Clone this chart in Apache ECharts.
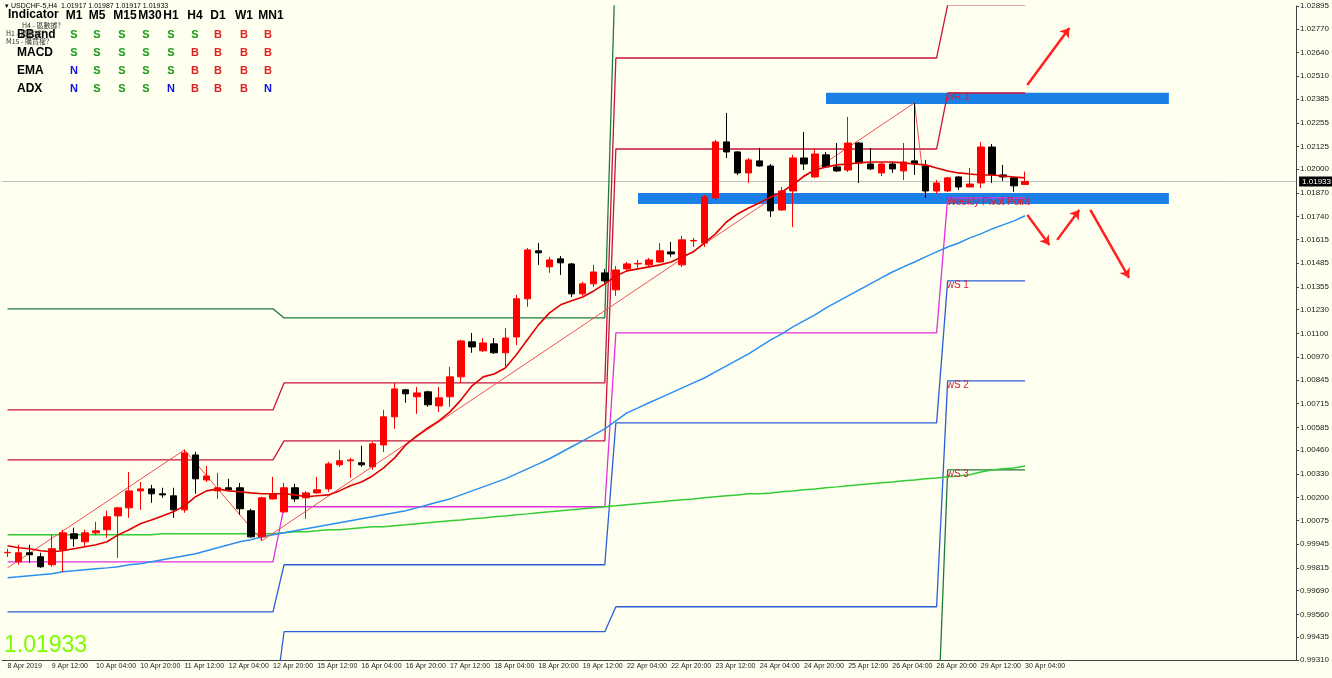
<!DOCTYPE html>
<html><head><meta charset="utf-8">
<script src="https://cdn.jsdelivr.net/npm/echarts@6/dist/echarts.min.js"></script>
<style>html,body{margin:0;padding:0;background:#fffff0}#c{width:1332px;height:678px}</style>
</head><body><div id="c"></div>
<script>
// ---- data ----
const tickLabels = ['8 Apr 2019','9 Apr 12:00','10 Apr 04:00','10 Apr 20:00','11 Apr 12:00','12 Apr 04:00','12 Apr 20:00','15 Apr 12:00','16 Apr 04:00','16 Apr 20:00','17 Apr 12:00','18 Apr 04:00','18 Apr 20:00','19 Apr 12:00','22 Apr 04:00','22 Apr 20:00','23 Apr 12:00','24 Apr 04:00','24 Apr 20:00','25 Apr 12:00','26 Apr 04:00','26 Apr 20:00','29 Apr 12:00','30 Apr 04:00'];
const yTicks = [1.02895,1.02770,1.02640,1.02510,1.02385,1.02255,1.02125,1.02000,1.01870,1.01740,1.01615,1.01485,1.01355,1.01230,1.01100,1.00970,1.00845,1.00715,1.00585,1.00460,1.00330,1.00200,1.00075,0.99945,0.99815,0.99690,0.99560,0.99435,0.99310];
// [open, close, low, high]
const candles = [
[0.99898,0.99900,0.99875,0.99920],[0.99848,0.99898,0.99832,0.99942],[0.99898,0.99887,0.99843,0.99942],[0.99876,0.99821,0.99815,0.99898],
[0.99832,0.99920,0.99821,0.99996],[0.99914,1.00007,0.99793,1.00024],[1.00002,0.99975,0.99931,1.00035],[0.99958,1.00007,0.99931,1.00024],
[1.00007,1.00018,0.99996,1.00068],[1.00024,1.00095,0.99980,1.00128],[1.00100,1.00144,0.99870,1.00150],[1.00144,1.00237,1.00089,1.00341],
[1.00237,1.00248,1.00133,1.00286],[1.00248,1.00221,1.00172,1.00270],[1.00221,1.00215,1.00199,1.00254],[1.00210,1.00133,1.00089,1.00254],
[1.00133,1.00445,1.00117,1.00462],[1.00434,1.00303,1.00221,1.00451],[1.00297,1.00319,1.00286,1.00374],[1.00237,1.00254,1.00193,1.00336],
[1.00254,1.00243,1.00243,1.00303],[1.00254,1.00139,1.00106,1.00281],[1.00128,0.99985,0.99980,1.00139],[0.99985,1.00199,0.99964,1.00205],
[1.00193,1.00221,1.00190,1.00314],[1.00122,1.00254,1.00117,1.00281],[1.00254,1.00193,1.00177,1.00276],[1.00199,1.00226,1.00084,1.00237],
[1.00226,1.00243,1.00221,1.00314],[1.00248,1.00385,1.00232,1.00396],[1.00380,1.00402,1.00369,1.00462],[1.00402,1.00407,1.00308,1.00418],
[1.00391,1.00380,1.00369,1.00484],[1.00369,1.00495,1.00352,1.00506],[1.00489,1.00643,1.00451,1.00681],[1.00643,1.00796,1.00577,1.00829],
[1.00791,1.00769,1.00720,1.00796],[1.00753,1.00774,1.00659,1.00807],[1.00780,1.00709,1.00698,1.00786],[1.00703,1.00747,1.00670,1.00807],
[1.00753,1.00862,1.00698,1.00917],[1.00862,1.01059,1.00829,1.01065],[1.01054,1.01026,1.00994,1.01103],[1.01005,1.01048,1.00999,1.01075],
[1.01043,1.00994,1.00988,1.01075],[1.00994,1.01075,1.00917,1.01130],[1.01081,1.01290,1.01037,1.01311],[1.01290,1.01558,1.01246,1.01569],
[1.01553,1.01542,1.01476,1.01596],[1.01465,1.01503,1.01432,1.01520],[1.01509,1.01487,1.01421,1.01525],[1.01481,1.01317,1.01300,1.01487],
[1.01317,1.01372,1.01306,1.01383],[1.01372,1.01437,1.01355,1.01476],[1.01432,1.01388,1.01377,1.01454],[1.01339,1.01448,1.01306,1.01470],
[1.01454,1.01481,1.01437,1.01492],[1.01481,1.01484,1.01459,1.01503],[1.01476,1.01503,1.01465,1.01514],[1.01492,1.01553,1.01487,1.01596],
[1.01547,1.01536,1.01520,1.01602],[1.01476,1.01613,1.01465,1.01635],[1.01607,1.01610,1.01574,1.01624],[1.01596,1.01848,1.01574,1.01859],
[1.01843,1.02150,1.01832,1.02161],[1.02150,1.02095,1.02062,1.02309],[1.02095,1.01980,1.01969,1.02100],[1.01980,1.02051,1.01925,1.02062],
[1.02046,1.02018,1.02013,1.02117],[1.02018,1.01772,1.01739,1.02029],[1.01777,1.01881,1.01772,1.01903],[1.01881,1.02062,1.01684,1.02079],
[1.02062,1.02029,1.01996,1.02205],[1.01958,1.02084,1.01952,1.02111],[1.02079,1.02013,1.02007,1.02095],[1.02013,1.01991,1.01985,1.02144],
[1.01996,1.02144,1.01985,1.02287],[1.02144,1.02035,1.01925,1.02150],[1.02029,1.02002,1.01996,1.02117],[1.01980,1.02029,1.01963,1.02035],
[1.02029,1.02002,1.01980,1.02040],[1.01991,1.02040,1.01941,1.02144],[1.02046,1.02029,1.01969,1.02364],[1.02018,1.01881,1.01843,1.02051],
[1.01881,1.01925,1.01865,1.01941],[1.01881,1.01953,1.01876,1.01958],[1.01958,1.01903,1.01887,1.01963],[1.01903,1.01919,1.01903,1.02007],
[1.01925,1.02122,1.01898,1.02150],[1.02122,1.01969,1.01925,1.02139],[1.01969,1.01958,1.01936,1.02024],[1.01953,1.01909,1.01876,1.01958],
[1.01917,1.01933,1.01917,1.01987]];
const maRed = [0.99936,0.99925,0.99920,0.99909,0.99903,0.99909,0.99920,0.99931,0.99942,0.99958,0.99996,1.00024,1.00057,1.00078,1.00100,1.00122,1.00155,1.00205,1.00237,1.00248,1.00237,1.00232,1.00226,1.00221,1.00221,1.00221,1.00215,1.00205,1.00210,1.00215,1.00237,1.00265,1.00286,1.00319,1.00363,1.00418,1.00489,1.00539,1.00582,1.00621,1.00670,1.00736,1.00813,1.00862,1.00878,1.00911,1.00983,1.01065,1.01147,1.01213,1.01257,1.01279,1.01300,1.01333,1.01372,1.01415,1.01443,1.01454,1.01465,1.01476,1.01492,1.01520,1.01547,1.01596,1.01646,1.01711,1.01755,1.01788,1.01816,1.01848,1.01876,1.01914,1.01963,1.01996,1.02013,1.02024,1.02029,1.02035,1.02040,1.02040,1.02040,1.02035,1.02029,1.02024,1.02007,1.01991,1.01980,1.01974,1.01969,1.01969,1.01963,1.01958,1.01953];
const emaBlue = [0.99761,0.99766,0.99772,0.99777,0.99783,0.99794,0.99799,0.99805,0.99810,0.99815,0.99821,0.99832,0.99837,0.99848,0.99859,0.99870,0.99881,0.99892,0.99909,0.99925,0.99942,0.99958,0.99969,0.99985,0.99996,1.00007,1.00018,1.00029,1.00040,1.00051,1.00062,1.00073,1.00084,1.00095,1.00106,1.00117,1.00128,1.00144,1.00161,1.00177,1.00193,1.00215,1.00237,1.00259,1.00281,1.00303,1.00330,1.00358,1.00385,1.00413,1.00446,1.00479,1.00511,1.00544,1.00577,1.00621,1.00665,1.00692,1.00720,1.00747,1.00774,1.00802,1.00829,1.00856,1.00889,1.00922,1.00955,1.00988,1.01026,1.01065,1.01098,1.01136,1.01169,1.01202,1.01240,1.01273,1.01306,1.01339,1.01372,1.01405,1.01437,1.01465,1.01492,1.01520,1.01547,1.01574,1.01596,1.01624,1.01646,1.01673,1.01695,1.01717,1.01745];
const emaGreen = [0.99996,0.99996,0.99996,0.99996,0.99996,0.99996,0.99996,0.99996,0.99996,0.99996,0.99996,0.99996,0.99996,0.99996,1.00002,1.00002,1.00002,1.00002,1.00002,1.00002,1.00002,1.00002,1.00002,1.00002,1.00002,1.00007,1.00013,1.00013,1.00018,1.00024,1.00024,1.00029,1.00035,1.00040,1.00040,1.00046,1.00051,1.00057,1.00062,1.00068,1.00073,1.00078,1.00084,1.00089,1.00095,1.00100,1.00106,1.00111,1.00117,1.00122,1.00128,1.00133,1.00139,1.00144,1.00150,1.00155,1.00161,1.00166,1.00172,1.00177,1.00183,1.00188,1.00193,1.00199,1.00205,1.00210,1.00215,1.00221,1.00221,1.00226,1.00232,1.00237,1.00243,1.00248,1.00254,1.00259,1.00265,1.00270,1.00276,1.00281,1.00286,1.00292,1.00297,1.00303,1.00308,1.00314,1.00319,1.00325,1.00341,1.00352,1.00358,1.00363,1.00374];
const zigzag = [[0,0.99815],[16,1.00462],[23,0.99964],[82,1.02364],[83,1.01843]];
const weekStart = [0,25,55,85];
const levelR3 = [1.01235,1.01185,1.0320,1.0320];
const levelR2 = [1.00681,1.00829,1.02610,1.02901];
const levelR1 = [1.00407,1.00511,1.02111,1.02418];
const levelPP = [0.99848,1.00150,1.01103,1.01843];
const levelS1 = [0.99574,0.99832,1.00610,1.01388];
const levelS2 = [0.9900,0.99465,0.99602,1.00840];
const levelS3 = [0.9880,0.9880,0.9880,1.00352];
const bandR1 = [74,105,1.02358,1.02419];
const bandPP = [57,105,1.01810,1.01870];
const arrows = [[[92.2,1.02462],[96.0,1.02775]],[[92.2,1.01750],[94.2,1.01585]],[[94.9,1.01613],[96.9,1.01777]],[[97.9,1.01777],[101.4,1.01405]]];
const lastPrice = 1.01933;
const tableCols = ['M1','M5','M15','M30','H1','H4','D1','W1','MN1'];
const tableRows = ['BBand','MACD','EMA','ADX'];
const tableVals = [['S','S','S','S','S','S','B','B','B'],['S','S','S','S','S','B','B','B','B'],['N','S','S','S','S','B','B','B','B'],['N','S','S','S','N','B','B','B','N']];

// ---- build ----
const N = 117;
const cats = Array.from({length:N},(_, i)=>String(i));
const nBars = candles.length;
function weekly(L){const out=[];for(let i=0;i<nBars;i++){let w=0;for(let k=0;k<weekStart.length;k++)if(i>=weekStart[k])w=k;out.push(L[w]);}return out;}
const F='Liberation Sans';
function lvl(name,L,color,label){
  const s={name,type:'line',data:weekly(L),symbol:'none',lineStyle:{color,width:1.3},z:3,silent:true};
  if(label){s.markPoint={symbol:'circle',symbolSize:0,data:[{coord:[85,L[3]]}],label:{show:true,formatter:label,position:'right',offset:[-6,4],color:'#d02040',fontSize:10,fontFamily:F}};}
  return s;
}
const colX=[74,97,122,146,171,195,218,244,268];
const colHX=[74,97,125,150,171,195,218,244,271];
const graphics=[];
graphics.push({type:'text',left:5,top:3,style:{text:'▾ USDCHF-5,H4  1.01917 1.01987 1.01917 1.01933',fontSize:7,fontFamily:F,fill:'#000'}});
graphics.push({type:'text',left:8,top:9,style:{text:'Indicator',fontSize:12,fontWeight:'bold',fontFamily:F,fill:'#000'}});
tableCols.forEach((c,j)=>graphics.push({type:'text',x:colHX[j],y:16,style:{text:c,fontSize:12,fontWeight:'bold',fontFamily:F,fill:'#000',align:'center',verticalAlign:'middle'}}));
tableRows.forEach((r,i)=>{
  graphics.push({type:'text',x:17,y:35+i*18,style:{text:r,fontSize:12,fontWeight:'bold',fontFamily:F,fill:'#000',verticalAlign:'middle'}});
  tableVals[i].forEach((v,j)=>graphics.push({type:'text',x:colX[j],y:35+i*18,style:{text:v,fontSize:11,fontWeight:'bold',fontFamily:F,fill:v==='S'?'#1a9a1a':(v==='B'?'#e02020':'#1010e0'),align:'center',verticalAlign:'middle'}}));
});
graphics.push({type:'text',left:22,top:22,style:{text:'H4 - 區數據?',fontSize:7,fontFamily:'Noto Sans CJK TC',fill:'#333'}});
graphics.push({type:'text',left:6,top:30,style:{text:'H1 - 區數據?',fontSize:7,fontFamily:'Noto Sans CJK TC',fill:'#333'}});
graphics.push({type:'text',left:6,top:38,style:{text:'M15 - 購買權?',fontSize:7,fontFamily:'Noto Sans CJK TC',fill:'#333'}});
graphics.push({type:'text',left:4,top:634,style:{text:'1.01933',fontSize:23,fontFamily:F,fill:'#7cfc00'}});

const chart = echarts.init(document.getElementById('c'));
chart.setOption({
  backgroundColor:'#fffff0',
  animation:false,
  grid:{left:2,right:32,top:6,bottom:18},
  xAxis:[{type:'category',data:cats,boundaryGap:true,
    axisLine:{onZero:false,lineStyle:{color:'#444'}},
    axisTick:{interval:3,alignWithLabel:true,length:3,lineStyle:{color:'#444'}},
    axisLabel:{interval:3,formatter:(v,idx)=>tickLabels[idx/4]||'',fontSize:7,fontFamily:F,color:'#222',align:'left',margin:3},
    splitLine:{show:false}},
   {type:'value',min:-0.5,max:N-0.5,show:false,axisLine:{onZero:false}}],
  yAxis:{type:'value',position:'right',min:0.99310,max:1.02895,scale:true,
    axisLine:{show:true,onZero:false,lineStyle:{color:'#444'}},
    axisTick:{show:true,customValues:yTicks,length:3,lineStyle:{color:'#444'}},
    axisLabel:{customValues:yTicks,formatter:v=>v.toFixed(5),fontSize:8,fontFamily:F,color:'#222',margin:4},
    splitLine:{show:false}},
  graphic:graphics,
  series:[
    {type:'line',data:[],markArea:{silent:true,itemStyle:{color:'#1a80e6'},data:[[{coord:[bandR1[0],bandR1[3]]},{coord:[bandR1[1],bandR1[2]]}],[{coord:[bandPP[0],bandPP[3]]},{coord:[bandPP[1],bandPP[2]]}]]},z:1},
    {type:'line',xAxisIndex:1,data:[[-0.5,lastPrice],[N-0.5,lastPrice]],symbol:'none',silent:true,lineStyle:{color:'#c0c0c0',width:1},z:2,
      endLabel:{show:true,formatter:'1.01933',backgroundColor:'#000',color:'#fff',fontSize:8,fontFamily:F,padding:[1,3],distance:3}},
    lvl('R3',levelR3,'#1f7a3a'),
    lvl('S3',levelS3,'#1f7a3a','wS 3'),
    lvl('R2',levelR2,'#c8143c','wR 2'),
    lvl('R1',levelR1,'#c8143c','wR 1'),
    lvl('PP',levelPP,'#e030e0','Weekly Pivot Point'),
    lvl('S1',levelS1,'#2a5fd8','wS 1'),
    lvl('S2',levelS2,'#2a5fd8','wS 2'),
    {type:'line',data:emaGreen,symbol:'none',lineStyle:{color:'#33cc33',width:1.5},z:4},
    {type:'line',data:emaBlue,symbol:'none',lineStyle:{color:'#2a8ff0',width:1.5},z:4},
    {type:'line',data:zigzag,symbol:'none',lineStyle:{color:'#f05050',width:1},z:4},
    {type:'candlestick',data:candles,barWidth:7,z:5,
      itemStyle:{color:'#ff0000',color0:'#000000',borderColor:'#ff0000',borderColor0:'#000000',borderWidth:1}},
    {type:'line',data:maRed,symbol:'none',lineStyle:{color:'#e00000',width:1.6},z:6},
    {type:'line',xAxisIndex:1,data:[],markLine:{silent:true,symbol:['none','arrow'],symbolSize:9,lineStyle:{color:'#ff2020',width:2.5,type:'solid'},label:{show:false},
      data:arrows.map(a=>[{coord:a[0]},{coord:a[1]}])},z:7}
  ]
});
</script></body></html>
